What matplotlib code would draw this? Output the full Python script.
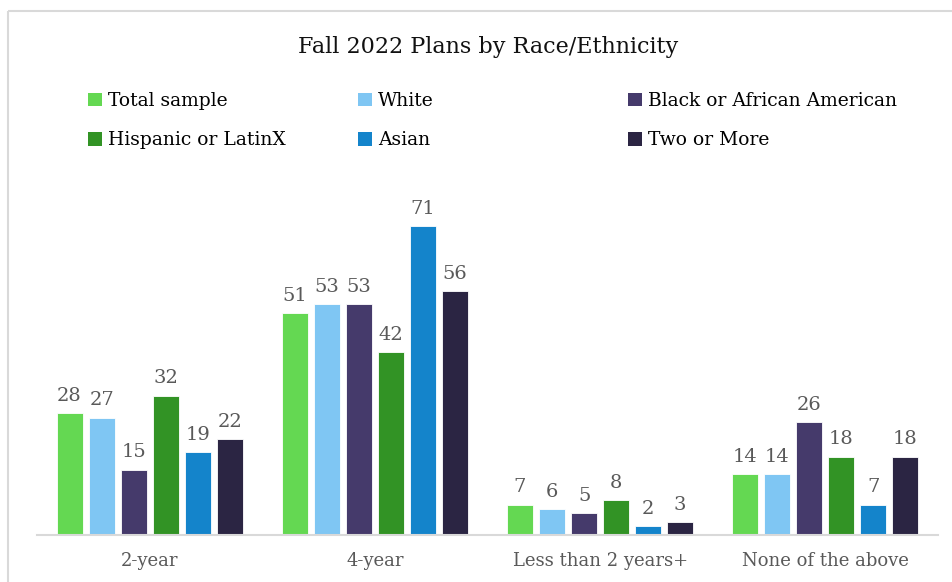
import numpy as np
import matplotlib.pyplot as plt
from matplotlib.patches import Rectangle, Patch

categories = ["2-year", "4-year", "Less than 2 years+", "None of the above"]
groups = ["Total sample", "White", "Black or African American",
          "Hispanic or LatinX", "Asian", "Two or More"]
total_sample = [28, 51, 7, 14]
white = [27, 53, 6, 14]
black = [15, 53, 5, 26]
hispanic = [32, 42, 8, 18]
asian = [19, 71, 2, 7]
two_or_more = [22, 56, 3, 18]
colors = ["#64D852", "#7FC6F3", "#453A6B", "#329325", "#1484CB", "#2B2543"]

series = [total_sample, white, black, hispanic, asian, two_or_more]

plt.rcParams["font.family"] = ["DejaVu Serif"]

fig = plt.figure(figsize=(9.53, 5.82), dpi=100)
ax = fig.add_axes([37 / 953, 47 / 582, 901 / 953, 348 / 582])

x = np.arange(len(categories))
step = 0.1422
width = 0.1156
for i, (vals, col) in enumerate(zip(series, colors)):
    pos = x + (i - 2.5) * step
    bars = ax.bar(pos, vals, width=width, color=col, edgecolor="white",
                  linewidth=0.6, label=groups[i])
    for b, v in zip(bars, vals):
        ax.annotate(str(v), (b.get_x() + b.get_width() / 2, v),
                    xytext=(0, 6), textcoords="offset points",
                    ha="center", va="bottom", fontsize=14, color="#595959")

ax.set_xlim(-0.5, 3.5)
ax.set_ylim(0, 80)
ax.set_yticks([])
ax.set_xticks(x)
ax.set_xticklabels(categories, fontsize=13, color="#595959")
ax.tick_params(axis="x", length=0, pad=12)
for s in ["top", "right", "left"]:
    ax.spines[s].set_visible(False)
ax.spines["bottom"].set_color("#D9D9D9")
ax.spines["bottom"].set_linewidth(1.5)

fig.text(488 / 953, 1 - 47 / 582, "Fall 2022 Plans by Race/Ethnicity",
         ha="center", va="center", fontsize=16, color="#111111")

# legend: three columns, two rows each
col_x = [88, 358, 628]
for c in range(3):
    idx = [c, c + 3]
    handles = [Patch(facecolor=colors[k]) for k in idx]
    labels = [groups[k] for k in idx]
    fig.legend(handles, labels, loc="upper left",
               bbox_to_anchor=(col_x[c] / 953, 1 - 92 / 582),
               frameon=False, fontsize=13.5, handlelength=0.75,
               handleheight=0.75, handletextpad=0.3, labelspacing=1.13,
               borderaxespad=0, borderpad=0)

# outer chart border
fig.patches.append(Rectangle((8, 582 - 11), 1000, -700, transform=None,
                             fill=False, edgecolor="#D9D9D9", linewidth=1.5))

fig.savefig("out.png", dpi=100)
